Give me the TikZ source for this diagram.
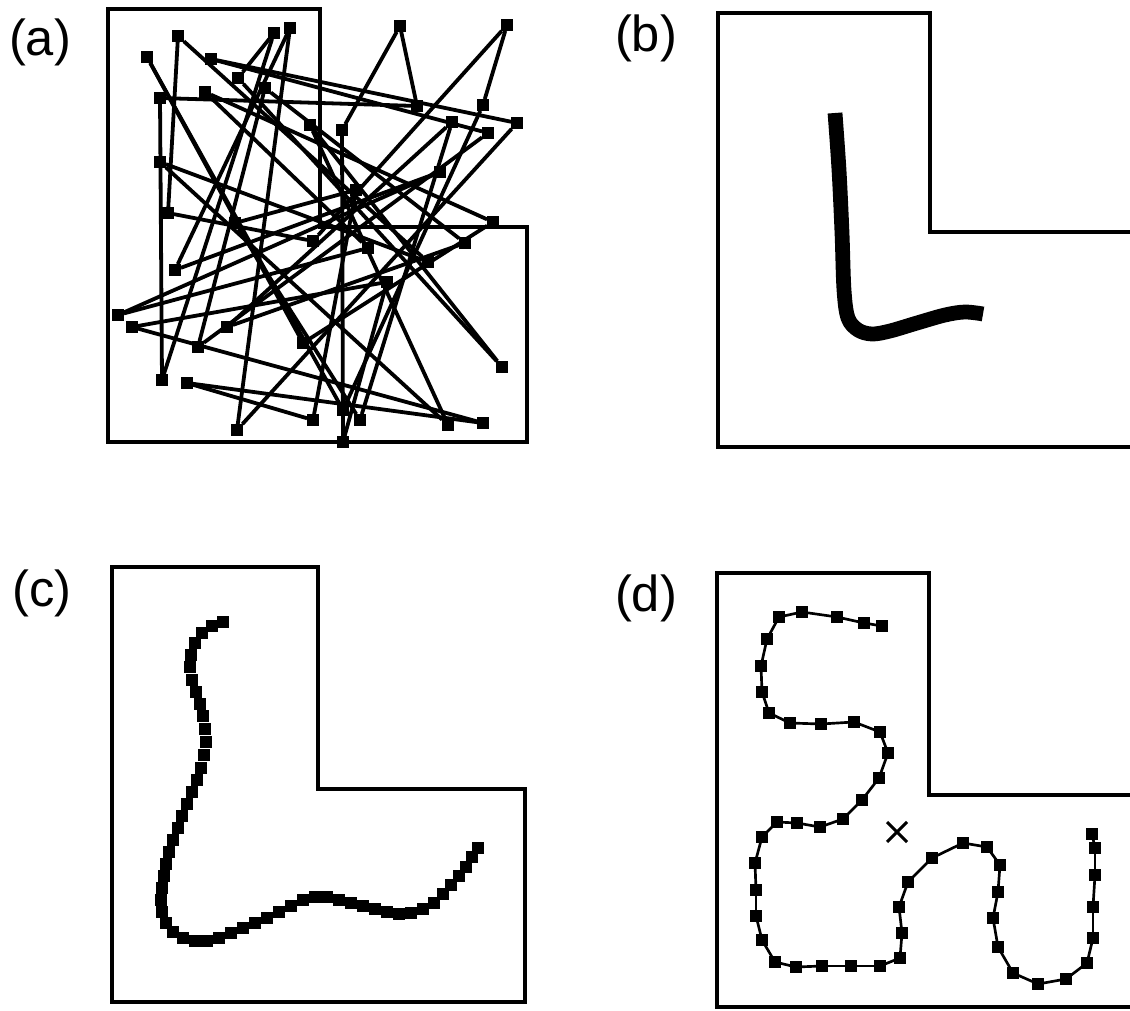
\documentclass[tikz,border=0pt]{standalone}
\usepackage{fontspec}
\setmainfont{Liberation Sans}

\begin{document}
\begin{tikzpicture}[x=0.025cm, y=-0.025cm,
    region/.style={line width=3.4pt, line join=miter},
    tag/.style={font=\fontsize{36}{40}\selectfont, inner sep=0pt},
    site/.style={rectangle, fill=black, inner sep=0pt, minimum size=8pt},
    bead/.style={rectangle, fill=black, inner sep=0pt, minimum size=8.5pt},
    grain/.style={rectangle, fill=black, inner sep=0pt, minimum size=8pt},
    link/.style={line width=2.7pt},
    chain/.style={line width=1.9pt},
    trail/.style={line width=10.5pt, line cap=butt, line join=round}]

\useasboundingbox (0,0) rectangle (1130,1011);
\clip (0,0) rectangle (1130,1011);
\fill[white] (0,0) rectangle (1130,1011);

\node[tag] (taga) at (40,42)  {(a)};
\node[tag] (tagb) at (646,38) {(b)};
\node[tag] (tagc) at (42,593) {(c)};
\node[tag] (tagd) at (646,598) {(d)};

% (a) random tour
\draw[region] (108,9) -- (320,9) -- (320,227) -- (527,227) -- (527,442) -- (108,442) -- cycle;
\foreach \n/\x/\y in {1/147/57, 2/178/36, 3/274/33, 4/290/28, 5/211/59, 6/238/78,
    7/265/88, 8/160/98, 9/205/92, 10/310/125, 11/342/130, 12/400/26, 13/507/25,
    14/417/106, 15/483/105, 16/452/122, 17/517/123, 18/488/133, 19/160/162,
    20/356/190, 21/440/172, 22/168/213, 23/493/222, 24/313/241, 25/368/248,
    26/387/282, 27/428/262, 28/465/243, 29/175/270, 30/235/223, 31/118/315,
    32/132/327, 33/198/347, 34/227/327, 35/303/343, 36/162/380, 37/187/383,
    38/237/430, 39/313/420, 40/343/410, 41/360/420, 42/448/425, 43/483/423,
    44/343/442, 45/502/367}
  \node[site] (a\n) at (\x,\y) {};
\foreach \v [remember=\v as \u (initially 14)] in {12,11,44,26,32,43,37,39,20,30,41,16,
    34,28,7,33,18,5,17,38,4,29,21,31,25,9,23,35,1,40,15,13,24,22,2,27,19,42,10,45,6,
    3,36,8,14}
  \draw[link] (a\u) -- (a\v);

% (b)
\draw[region] (1140,232) -- (930,232) -- (930,13) -- (718,13) -- (718,447) -- (1140,447);
\draw[trail] plot[smooth, tension=0.55] coordinates {(835,113) (839,170) (842,233)
    (844,290) (848,318) (858,330) (872,334) (890,331) (917,323) (945,315) (965,312) (983,314)};

% (c)
\draw[region] (112,567) -- (318,567) -- (318,789) -- (525,789) -- (525,1002) -- (112,1002) -- cycle;
\foreach \x/\y [count=\n] in {223/622, 212/626, 202/633, 195/643, 191/655, 190/667,
    192/680, 196/692, 200/704, 203/716, 205/729, 206/742, 204/755, 201/768, 197/780,
    192/792, 187/804, 182/816, 178/828, 173/840, 169/852, 166/864, 164/876, 162/888,
    161/900, 162/912, 166/923, 173/932, 183/938, 195/941, 207/941, 219/938, 231/933,
    243/928, 255/923, 267/918, 279/912, 291/906, 303/900, 315/897, 327/897, 339/900,
    351/903, 363/906, 375/909, 387/912, 399/914, 411/913, 423/909, 434/903, 443/894,
    451/885, 459/876, 466/867, 472/857, 478/848}
  \node[grain] (c\n) at (\x,\y) {};

% (d)
\draw[region] (1140,795) -- (929,795) -- (929,573) -- (717,573) -- (717,1007) -- (1140,1007);
\foreach \n/\x/\y in {1/882/626, 2/864/623, 3/837/617, 4/802/612, 5/779/617,
    6/767/639, 7/761/666, 8/762/692, 9/769/713, 10/790/723, 11/821/724, 12/854/722,
    13/880/732, 14/888/753, 15/879/778, 16/862/800, 17/843/819, 18/820/827,
    19/797/823, 20/777/822, 21/762/837, 22/755/863, 23/756/890, 24/756/916,
    25/762/940, 26/775/962, 27/796/967, 28/822/966, 29/851/966, 30/880/966,
    31/900/958, 32/902/933, 33/899/907, 34/908/882, 35/932/858, 36/963/843,
    37/987/847, 38/1000/865, 39/998/892, 40/993/918, 41/998/947, 42/1013/973,
    43/1038/984, 44/1066/979, 45/1087/963, 46/1093/938, 47/1093/907, 48/1095/875,
    49/1095/848, 50/1092/834}
  \node[bead] (d\n) at (\x,\y) {};
\foreach \v [remember=\v as \u (initially 1)] in {2,...,50}
  \draw[chain] (d\u.center) -- (d\v.center);
\node (goal) at (897,832) {};
\draw[line width=2.2pt] (goal.center) +(-10,-10) -- +(10,10) (goal.center) +(-10,10) -- +(10,-10);

\end{tikzpicture}
\end{document}
